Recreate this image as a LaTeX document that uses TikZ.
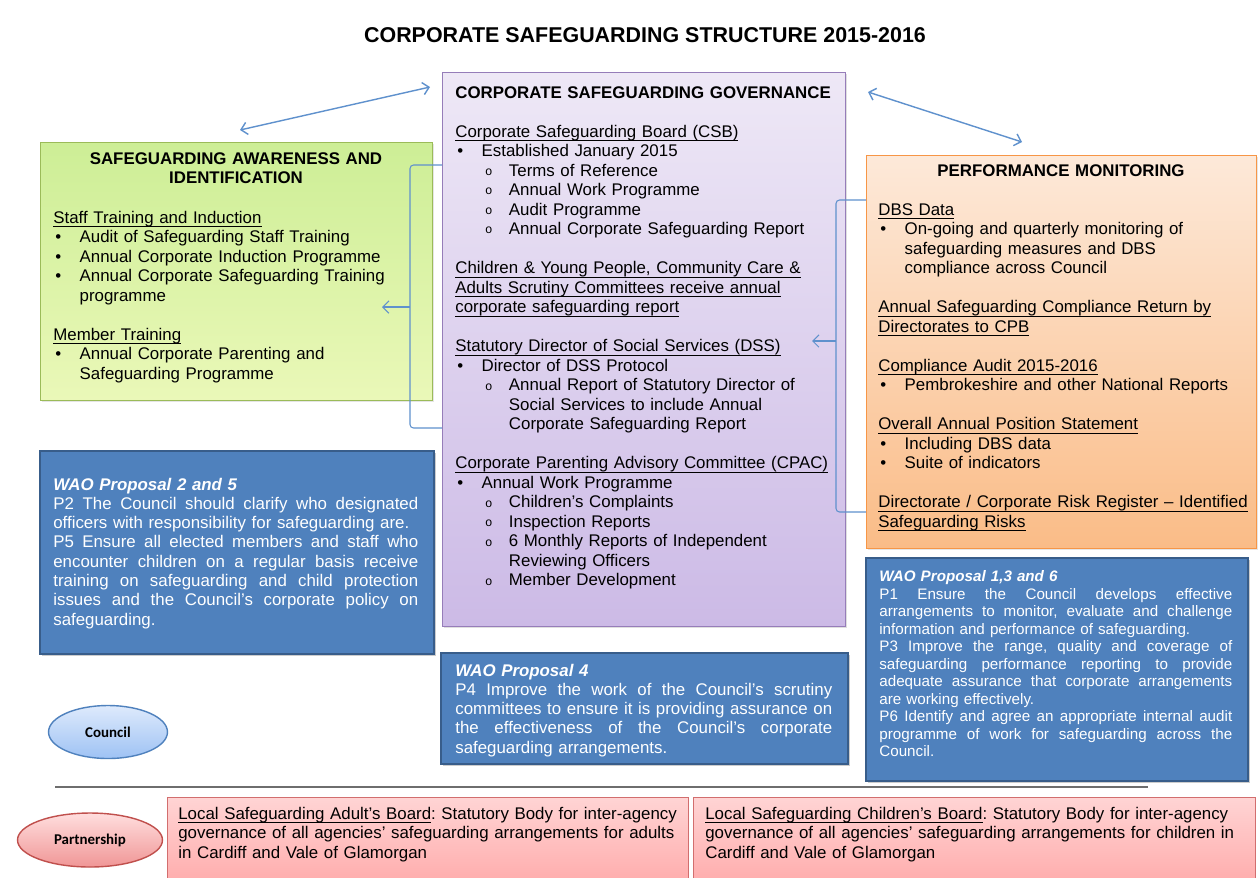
\documentclass[tikz,border=0pt]{standalone}
\usepackage{fontspec}
\setmainfont{Liberation Sans}
\newfontfamily\calib{Carlito}
\newfontfamily\monof{Liberation Mono}
\usetikzlibrary{positioning,shapes.geometric,shadows,arrows.meta}
\frenchspacing

\definecolor{awTop}{RGB}{205,238,150}
\definecolor{awBot}{RGB}{234,248,184}
\definecolor{awLine}{RGB}{155,187,89}
\definecolor{gvTop}{RGB}{238,232,246}
\definecolor{gvBot}{RGB}{204,186,230}
\definecolor{gvLine}{RGB}{150,125,185}
\definecolor{pfTop}{RGB}{253,233,217}
\definecolor{pfBot}{RGB}{250,188,135}
\definecolor{pfLine}{RGB}{247,150,70}
\definecolor{waoFill}{RGB}{79,129,189}
\definecolor{waoLine}{RGB}{56,93,138}
\definecolor{lsTop}{RGB}{255,212,212}
\definecolor{lsBot}{RGB}{255,168,168}
\definecolor{lsLine}{RGB}{210,110,110}
\definecolor{coTop}{RGB}{222,234,252}
\definecolor{coBot}{RGB}{158,194,244}
\definecolor{coLine}{RGB}{79,129,189}
\definecolor{ptTop}{RGB}{255,222,222}
\definecolor{ptBot}{RGB}{240,150,150}
\definecolor{ptLine}{RGB}{192,80,77}
\definecolor{arrCol}{RGB}{95,145,205}
\definecolor{sepCol}{RGB}{110,110,110}

\newlength{\jw}
\newcommand{\uln}[1]{\setbox0\hbox{#1}\rlap{\rule[-2.3pt]{\wd0}{0.45pt}}\box0}
\newcommand{\hd}[1]{\noindent\uln{#1}\par}
\newcommand{\gap}{\par\vspace{\baselineskip}}
\newcommand{\itm}[1]{\noindent\hangindent=15pt\hangafter=1\makebox[15pt][l]{\hspace{1.2pt}\textbullet}#1\par}
\newcommand{\sitm}[1]{\noindent\hangindent=30.5pt\hangafter=1\hspace{17pt}\makebox[13.5pt][l]{\raisebox{0.3pt}{\monof\fontsize{7}{7}\selectfont o}}#1\par}
\newcommand{\jl}[1]{\noindent\hbox to\jw{\spaceskip=0.2em plus 1fil\relax #1}\par}
\newcommand{\pl}[1]{\noindent #1\par}

\begin{document}
\begin{tikzpicture}[x=0.02cm,y=-0.02cm,
    every node/.style={inner sep=0pt},
    txt/.style={anchor=base west,align=left,font=\fontsize{9.6}{11.1}\selectfont},
    hdr/.style={anchor=base,align=center,font=\bfseries\fontsize{9.6}{11.1}\selectfont},
    wtxt/.style={anchor=base west,text=white,font=\fontsize{9.6}{11.0}\selectfont},
    gbox/.style={rectangle,anchor=north west,draw=awLine,top color=awTop,bottom color=awBot,drop shadow={opacity=0.2,shadow xshift=1pt,shadow yshift=-1pt}},
    pbox/.style={rectangle,anchor=north west,draw=gvLine,top color=gvTop,bottom color=gvBot,drop shadow={opacity=0.25,shadow xshift=1.2pt,shadow yshift=-1.2pt}},
    obox/.style={rectangle,anchor=north west,draw=pfLine,top color=pfTop,bottom color=pfBot,drop shadow={opacity=0.2,shadow xshift=1pt,shadow yshift=-1pt}},
    wbox/.style={rectangle,anchor=north west,draw=waoLine,line width=1.3pt,fill=waoFill,drop shadow={opacity=0.4,shadow xshift=1.2pt,shadow yshift=-1.2pt}},
    lbox/.style={rectangle,anchor=north west,draw=lsLine,top color=lsTop,bottom color=lsBot},
    ell/.style={ellipse,line width=0.8pt,font=\calib\bfseries\fontsize{8.5}{10}\selectfont},
    conn/.style={draw=arrCol,line width=0.6pt,rounded corners=2pt},
    >={Straight Barb[length=3.5pt,width=7pt]}]

    \useasboundingbox (0,0) rectangle (1260,877);
    \fill[white] (0,0) rectangle (1260,877);

    \node[anchor=base,font=\bfseries\fontsize{12.2}{14}\selectfont] (Title) at (645,42.5) {CORPORATE SAFEGUARDING STRUCTURE 2015-2016};

    \node[gbox,minimum width=7.84cm,minimum height=5.16cm] (Aware) at (40,142) {};
    \node[hdr,text width=7.32cm] (AwareH) at (236,164) {SAFEGUARDING AWARENESS AND\\IDENTIFICATION};
    \node[txt,text width=8cm] (AwareT) at (53,223) {%
        \hd{Staff Training and Induction}
        \itm{Audit of Safeguarding Staff Training}
        \itm{Annual Corporate Induction Programme}
        \itm{Annual Corporate Safeguarding Training\newline programme}\gap
        \hd{Member Training}
        \itm{Annual Corporate Parenting and\newline Safeguarding Programme}};

    \node[pbox,minimum width=8.06cm,minimum height=11.08cm] (Gov) at (442,72) {};
    \node[txt,text width=8cm] (GovT) at (455,98) {%
        \textbf{CORPORATE SAFEGUARDING GOVERNANCE}\gap
        \hd{Corporate Safeguarding Board (CSB)}
        \itm{Established January 2015}
        \sitm{Terms of Reference}
        \sitm{Annual Work Programme}
        \sitm{Audit Programme}
        \sitm{Annual Corporate Safeguarding Report}\gap
        \hd{Children \& Young People, Community Care \&}
        \hd{Adults Scrutiny Committees receive annual}
        \hd{corporate safeguarding report}\gap
        \hd{Statutory Director of Social Services (DSS)}
        \itm{Director of DSS Protocol}
        \sitm{Annual Report of Statutory Director of\newline Social Services to include Annual\newline Corporate Safeguarding Report}\gap
        \hd{Corporate Parenting Advisory Committee (CPAC)}
        \itm{Annual Work Programme}
        \sitm{Children's Complaints}
        \sitm{Inspection Reports}
        \sitm{6 Monthly Reports of Independent\newline Reviewing Officers}
        \sitm{Member Development}};

    \node[obox,minimum width=7.8cm,minimum height=7.86cm] (Perf) at (866,155) {};
    \node[hdr,text width=7.32cm] (PerfH) at (1061,176) {PERFORMANCE MONITORING};
    \node[txt,text width=8cm] (PerfT) at (878,215) {%
        \hd{DBS Data}
        \itm{On-going and quarterly monitoring of\newline safeguarding measures and DBS\newline compliance across Council}\gap
        \hd{Annual Safeguarding Compliance Return by}
        \hd{Directorates to CPB}\gap
        \hd{Compliance Audit 2015-2016}
        \itm{Pembrokeshire and other National Reports}\gap
        \hd{Overall Annual Position Statement}
        \itm{Including DBS data}
        \itm{Suite of indicators}\gap
        \hd{Directorate / Corporate Risk Register -- Identified}
        \hd{Safeguarding Risks}};

    \node[wbox,minimum width=7.88cm,minimum height=4.06cm] (WAO25) at (39,450) {};
    \node[wtxt,text width=7.3cm] (WAO25T) at (53,490) {\setlength{\jw}{7.3cm}%
        \pl{\textbf{\textit{WAO Proposal 2 and 5}}}
        \jl{P2 The Council should clarify who designated}
        \pl{officers with responsibility for safeguarding are.}
        \jl{P5 Ensure all elected members and staff who}
        \jl{encounter children on a regular basis receive}
        \jl{training on safeguarding and child protection}
        \jl{issues and the Council's corporate policy on}
        \pl{safeguarding.}};

    \node[wbox,minimum width=8.14cm,minimum height=2.22cm] (WAO4) at (440,652) {};
    \node[wtxt,text width=7.54cm] (WAO4T) at (455,676) {\setlength{\jw}{7.54cm}%
        \pl{\textbf{\textit{WAO Proposal 4}}}
        \jl{P4 Improve the work of the Council's scrutiny}
        \jl{committees to ensure it is providing assurance on}
        \jl{the effectiveness of the Council's corporate}
        \pl{safeguarding arrangements.}};

    \node[wbox,minimum width=7.64cm,minimum height=4.46cm] (WAO136) at (865,557) {};
    \node[wtxt,text width=7.06cm,font=\fontsize{8.65}{9.98}\selectfont] (WAO136T) at (879,581.5) {\setlength{\jw}{7.06cm}%
        \pl{\textbf{\textit{WAO Proposal 1,3 and 6}}}
        \jl{P1 Ensure the Council develops effective}
        \jl{arrangements to monitor, evaluate and challenge}
        \pl{information and performance of safeguarding.}
        \jl{P3 Improve the range, quality and coverage of}
        \jl{safeguarding performance reporting to provide}
        \jl{adequate assurance that corporate arrangements}
        \pl{are working effectively.}
        \jl{P6 Identify and agree an appropriate internal audit}
        \jl{programme of work for safeguarding across the}
        \pl{Council.}};

    \node[ell,draw=coLine,top color=coTop,bottom color=coBot,minimum width=2.38cm,minimum height=1.06cm] (Council) at (108,732) {Council};

    \coordinate (SepL) at (55,787);
    \coordinate (SepR) at (1148,787);
    \draw[sepCol,line width=1pt] (SepL) -- (SepR);

    \node[ell,draw=ptLine,top color=ptTop,bottom color=ptBot,minimum width=2.9cm,minimum height=1.08cm] (Partner) at (90,840) {Partnership};

    \node[lbox,minimum width=10.42cm,minimum height=1.9cm] (LSAB) at (167,797) {};
    \node[txt,text width=10.8cm] (LSABT) at (178,819) {\uln{Local Safeguarding Adult's Board}: Statutory Body for inter-agency\\governance of all agencies' safeguarding arrangements for adults\\in Cardiff and Vale of Glamorgan};
    \node[lbox,minimum width=11.24cm,minimum height=1.9cm] (LSCB) at (693,797) {};
    \node[txt,text width=11cm] (LSCBT) at (705,819) {\uln{Local Safeguarding Children's Board}: Statutory Body for inter-agency\\governance of all agencies' safeguarding arrangements for children in\\Cardiff and Vale of Glamorgan};

    \coordinate (AwL) at (240,130);
    \coordinate (AwR) at (430,87);
    \coordinate (PfL) at (868,92);
    \coordinate (PfR) at (1022,142);
    \draw[conn,<->,line width=0.8pt] (AwL) -- (AwR);
    \draw[conn,<->,line width=0.8pt] (PfL) -- (PfR);

    \coordinate (BrLa) at (410,165);
    \coordinate (BrLb) at (410,428);
    \coordinate (BrLm) at (410,307);
    \coordinate (BrLt) at (382,307);
    \draw[conn] (Gov.west |- BrLa) -- (BrLa) -- (BrLb) -- (Gov.west |- BrLb);
    \draw[conn,->] (BrLm) -- (BrLt);

    \coordinate (BrRa) at (836,200);
    \coordinate (BrRb) at (836,512);
    \coordinate (BrRm) at (836,341);
    \coordinate (BrRt) at (812,341);
    \draw[conn] (Perf.west |- BrRa) -- (BrRa) -- (BrRb) -- (Perf.west |- BrRb);
    \draw[conn,->] (BrRm) -- (BrRt);

\end{tikzpicture}
\end{document}
